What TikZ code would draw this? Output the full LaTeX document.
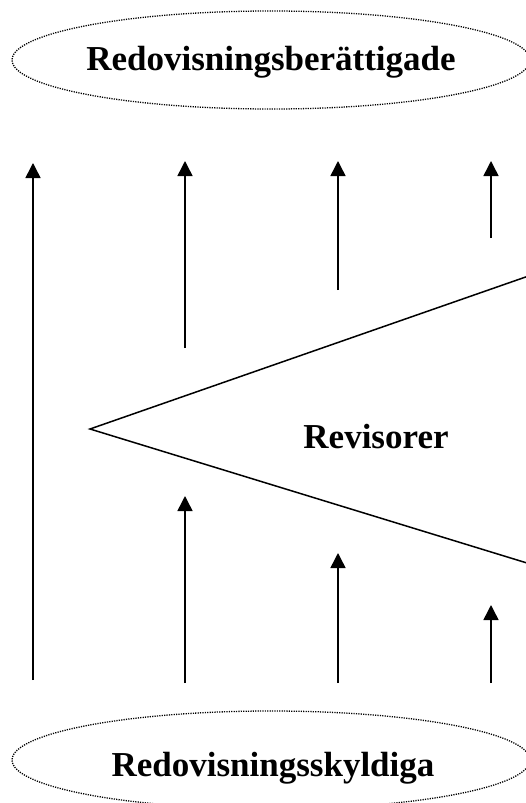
\documentclass[tikz,border=0pt]{standalone}
\usepackage{fontspec}
\setmainfont{Liberation Serif}
\usetikzlibrary{shapes.geometric,arrows.meta}

\tikzset{
  party/.style={draw, ellipse, line width=1.3pt, dash pattern=on 1.2pt off 1.2pt,
    minimum width=518pt, minimum height=98pt, inner sep=0pt},
  label/.style={font=\fontsize{35}{40}\selectfont\bfseries},
  flow/.style={-{Triangle[length=15pt,width=15pt]}, line width=1.5pt}
}

\begin{document}
\begin{tikzpicture}[x=1pt, y=-1pt]
	\useasboundingbox (0,0) rectangle (525,803);
	
	% Top and bottom parties
	\node[party] (entitled) at (271,60) {};
	\node[label] at (271,62) {Redovisningsberättigade};
	
	\node[party] (liable) at (271,760) {};
	\node[label] at (273,768) {Redovisningsskyldiga};
	
	% Auditors wedge
	\coordinate (apex) at (90,429);
	\coordinate (wedge-up) at (540,272);
	\coordinate (wedge-down) at (540,567);
	\draw[line width=1.5pt, line join=miter] (wedge-up) -- (apex) -- (wedge-down);
	\node[label] (auditors) at (376,437) {Revisorer};
	
	% Long arrow past the wedge
	\coordinate (t1) at (33,680);
	\coordinate (h1) at (33,163);
	\draw[flow] (t1) -- (h1);
	
	% Arrows above the wedge
	\coordinate (t2) at (185,348);
	\coordinate (h2) at (185,161);
	\coordinate (t3) at (338,290);
	\coordinate (h3) at (338,161);
	\coordinate (t4) at (491,238);
	\coordinate (h4) at (491,161);
	\draw[flow] (t2) -- (h2);
	\draw[flow] (t3) -- (h3);
	\draw[flow] (t4) -- (h4);
	
	% Arrows below the wedge
	\coordinate (b2) at (185,683);
	\coordinate (u2) at (185,496);
	\coordinate (b3) at (338,683);
	\coordinate (u3) at (338,553);
	\coordinate (b4) at (491,683);
	\coordinate (u4) at (491,605);
	\draw[flow] (b2) -- (u2);
	\draw[flow] (b3) -- (u3);
	\draw[flow] (b4) -- (u4);
\end{tikzpicture}
\end{document}
